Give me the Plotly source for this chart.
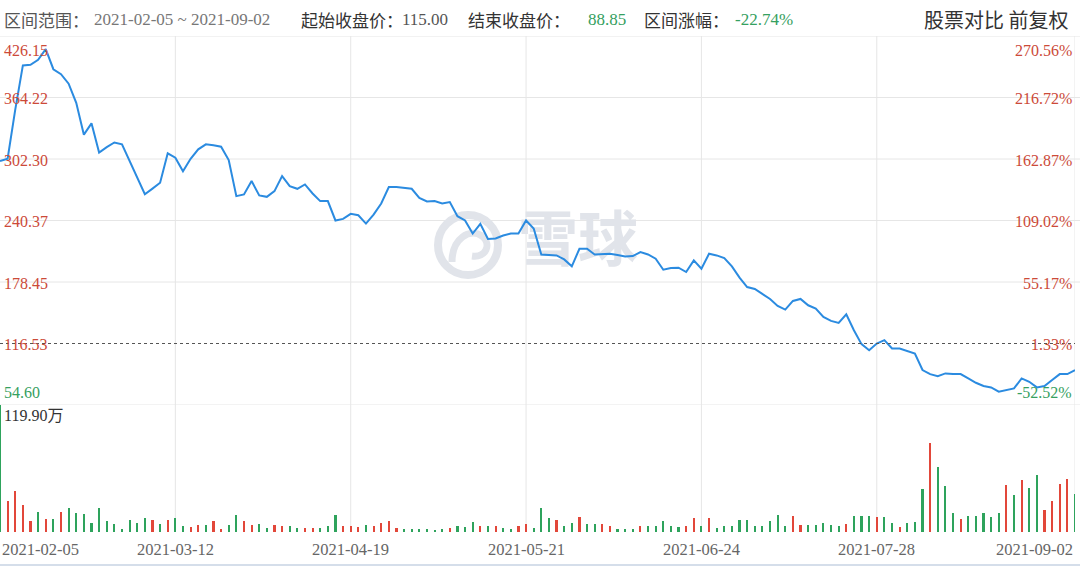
import plotly.graph_objects as go
import pandas as pd

# ---------------- data ----------------
hk_holidays = ["2021-02-12", "2021-02-15", "2021-04-02", "2021-04-05", "2021-04-06",
               "2021-05-19", "2021-06-14", "2021-07-01"]
dates = pd.bdate_range("2021-02-05", "2021-09-02", freq="C",
                       holidays=hk_holidays).strftime("%Y-%m-%d").tolist()

close = [
    300.2, 302.6, 352.0, 396.5, 397.2, 402.2, 413.0, 392.7, 387.7, 378.1,
    358.8, 326.8, 338.2, 308.8, 314.2, 318.9, 317.1, 300.5, 284.8, 266.8,
    272.5, 278.4, 308.0, 303.6, 290.0, 302.5, 312.0, 317.1, 316.1, 314.7,
    301.3, 264.9, 266.6, 280.1, 265.6, 264.2, 270.0, 285.1, 275.0, 272.3,
    276.7, 267.6, 259.9, 259.9, 240.4, 242.0, 247.1, 245.7, 237.3, 246.4,
    257.5, 274.0, 274.0, 273.3, 272.3, 263.2, 259.5, 259.9, 257.5, 258.9,
    244.7, 240.4, 227.2, 237.0, 221.8, 222.2, 225.2, 227.2, 227.2, 240.4,
    232.3, 206.2, 205.9, 205.2, 201.2, 194.2, 211.9, 211.9, 206.2, 206.9,
    206.9, 205.6, 204.2, 204.6, 208.6, 206.2, 201.9, 190.8, 192.5, 192.8,
    188.5, 200.2, 191.8, 206.9, 205.2, 202.5, 194.2, 182.8, 173.4, 171.4,
    166.1, 161.4, 154.4, 150.7, 159.4, 161.4, 155.0, 151.7, 143.3, 139.3,
    137.3, 146.0, 129.9, 115.9, 109.8, 116.5, 119.9, 111.5, 111.5, 109.2,
    106.5, 89.8, 85.7, 83.7, 86.4, 85.7, 85.7, 81.4, 77.0, 73.7,
    72.3, 68.0, 69.7, 71.3, 81.4, 78.0, 72.3, 73.7, 79.7, 85.7,
    85.7, 89.8,
]

volume_wan = [
    119.9, 29.3, 38.8, 25.9, 10.1, 18.6, 12.6, 12.3, 18.9, 22.7,
    17.7, 17.0, 8.5, 22.7, 10.1, 7.3, 3.2, 11.7, 8.5, 13.3,
    11.0, 7.6, 11.0, 13.3, 6.0, 4.7, 6.3, 6.6, 10.4, 3.2,
    6.6, 16.4, 10.4, 6.6, 7.3, 4.1, 6.3, 5.7, 5.4, 3.8,
    4.1, 3.8, 4.1, 6.0, 16.4, 5.4, 5.4, 4.7,
    6.9, 5.4, 8.5, 10.4, 4.1, 2.5, 2.8, 2.8, 2.8, 2.2,
    2.5, 3.8, 6.0, 4.4, 9.8, 6.0, 6.0, 5.4, 3.5, 2.8,
    5.4, 7.3, 4.1, 22.7, 13.3, 11.7, 5.4, 8.8, 14.5, 7.6,
    7.3, 7.3, 5.7, 3.2, 2.8, 2.8, 5.7, 5.7, 5.7, 10.1,
    5.4, 4.4, 5.7, 13.3, 5.7, 13.3, 4.1,
    5.4, 5.4, 11.7, 11.7, 5.4, 6.0, 10.1, 15.8, 6.0, 14.8,
    6.9, 6.9, 6.9, 8.5, 6.9, 5.4, 7.9, 14.8, 14.8, 15.5,
    14.2, 14.2, 8.5, 4.7, 8.5, 9.2, 41.0, 83.6, 60.9, 43.5,
    18.0, 12.6, 14.8, 15.5, 18.0, 14.2, 18.0, 44.8, 35.3, 48.9,
    42.0, 54.0, 21.1, 29.3, 45.1, 49.9, 36.3,
]

# r = up (red), g = down (green)
vol_dir = list(
    "grrrrgrgr" + "ggggggggggg" + "rgrgg" + "rrg" + "rrgg" + "rrgg" + "rrgg" + "rrggg" + "rrr"
    + "grrrr" + "gggggg" + "r" + "ggg" + "r" + "g" + "r" + "gg" + "rr" + "ggg" + "r" + "gg"
    + "r" + "gg" + "rr" + "ggg" + "r" + "ggggg" + "rr" + "g" + "r" + "g"
    + "ggggggggg" + "rr" + "ggggg" + "r" + "ggg" + "r" + "gg" + "r" + "ggg" + "r" + "ggg"
    + "r" + "ggggg" + "r" + "g" + "r" + "gg" + "rrrr" + "g"
)

price_ticks = [426.15, 364.22, 302.30, 240.37, 178.45, 116.53, 54.60]
price_labels = ["426.15", "364.22", "302.30", "240.37", "178.45", "116.53", "54.60"]
pct_labels = ["270.56%", "216.72%", "162.87%", "109.02%", "55.17%", "1.33%", "-52.52%"]
date_ticks = ["2021-02-05", "2021-03-12", "2021-04-19", "2021-05-21",
              "2021-06-24", "2021-07-28", "2021-09-02"]
vol_max = 119.90
vol_max_label = "119.90万"
start_price = "115.00"
end_price = "88.85"
range_change = "-22.74%"
period = "2021-02-05 ~ 2021-09-02"

n = len(dates)
assert n == len(close) == len(volume_wan) == len(vol_dir) == 142
x = list(range(n))

# ---------------- style ----------------
W, H = 1080, 567
ML, MR, MT, MB = 0, 5, 36, 35
PW = W - ML - MR
PH = H - MT - MB
VOL_FRAC = (532 - 405) / PH

RED = "#e2473a"
GREEN = "#2ea35c"
LBL_RED = "#cc4a38"
LBL_GREEN = "#35a060"
GRID = "#e6e6e6"
WM = "#e1e4ea"
NUMFONT = "Liberation Serif, Noto Sans CJK SC, serif"
CJKFONT = "Noto Sans CJK SC, sans-serif"


def px_x(p):
    return (p - ML) / PW


def px_y(p):
    return (H - MB - p) / PH


fig = go.Figure()

# watermark text (drawn first so the line sits on top)
fig.add_trace(go.Scatter(
    x=[px_x(578) * (n - 1)], y=[426.15 - (246 - 36) * (426.15 - 54.60) / 369],
    mode="text", text=["雪球"],
    textfont=dict(size=60, color=WM, family=CJKFONT, weight="bold"),
    hoverinfo="skip", showlegend=False, yaxis="y",
))

fig.add_trace(go.Scatter(
    x=x, y=close, mode="lines",
    line=dict(color="#2b8be0", width=2),
    hoverinfo="skip", showlegend=False, yaxis="y",
))

fig.add_trace(go.Bar(
    x=x, y=volume_wan,
    marker=dict(color=[RED if d == "r" else GREEN for d in vol_dir], line=dict(width=0)),
    width=0.28, hoverinfo="skip", showlegend=False, yaxis="y2",
))

shapes = []
# horizontal grid lines
for p in price_ticks:
    if p == 116.53:
        shapes.append(dict(type="line", xref="paper", yref="y", x0=0, x1=1, y0=p, y1=p,
                           line=dict(color="#555555", width=1, dash="3px,3px"), layer="above"))
    else:
        shapes.append(dict(type="line", xref="paper", yref="y", x0=0, x1=1.005, y0=p, y1=p,
                           line=dict(color=GRID, width=1), layer="below"))
# vertical grid lines
for d in date_ticks[1:-1]:
    i = dates.index(d)
    shapes.append(dict(type="line", xref="x", yref="paper", x0=i, x1=i, y0=0, y1=1,
                       line=dict(color=GRID, width=1), layer="below"))
# right border
shapes.append(dict(type="line", xref="x", yref="paper", x0=n - 1, x1=n - 1, y0=0, y1=1,
                   line=dict(color=GRID, width=1), layer="below"))
# bottom page border
shapes.append(dict(type="line", xref="paper", yref="paper", x0=0, x1=1.005,
                   y0=px_y(565), y1=px_y(565), line=dict(color="#d5deea", width=2), layer="below"))
# watermark logo ring
cx, cy, r = 468, 245, 30
shapes.append(dict(type="circle", xref="paper", yref="paper",
                   x0=px_x(cx - r), x1=px_x(cx + r), y0=px_y(cy + r), y1=px_y(cy - r),
                   line=dict(color=WM, width=8), layer="below"))
pts = [(452, 262), (452, 238), (470, 228), (482, 236), (492, 244), (486, 258), (472, 256)]
pp = [(px_x(a), px_y(b)) for a, b in pts]
path = "M {0},{1} C {2},{3} {4},{5} {6},{7} C {8},{9} {10},{11} {12},{13}".format(
    *[v for q in pp for v in q])
shapes.append(dict(type="path", xref="paper", yref="paper", path=path,
                   line=dict(color=WM, width=7), layer="below"))

ann = []
last = len(price_ticks) - 1
for k, (p, lab, pct) in enumerate(zip(price_ticks, price_labels, pct_labels)):
    col = LBL_GREEN if k == last else LBL_RED
    if k == 0:
        ya, ys = "top", -4
    elif k == last:
        ya, ys = "bottom", 2
    else:
        ya, ys = "middle", -1
    ann.append(dict(xref="paper", yref="y", x=px_x(2), y=p, text=lab, showarrow=False,
                    xanchor="left", yanchor=ya, yshift=ys,
                    font=dict(family=NUMFONT, size=16, color=col)))
    ann.append(dict(xref="paper", yref="y", x=px_x(1074), y=p, text=pct, showarrow=False,
                    xanchor="right", yanchor=ya, yshift=ys,
                    font=dict(family=NUMFONT, size=16, color=col)))

ann.append(dict(xref="paper", yref="paper", x=px_x(2), y=VOL_FRAC, text=vol_max_label,
                showarrow=False, xanchor="left", yanchor="top",
                font=dict(family=NUMFONT, size=16, color="#333333")))

for k, d in enumerate(date_ticks):
    i = dates.index(d)
    xa = "left" if k == 0 else ("right" if k == len(date_ticks) - 1 else "center")
    ann.append(dict(xref="x", yref="paper", x=i, y=px_y(549), text=d, showarrow=False,
                    xanchor=xa, yanchor="middle",
                    font=dict(family=NUMFONT, size=16.5, color="#666666")))

hy = px_y(19)
header = [
    (2, "区间范围：", "#555555", CJKFONT),
    (92, period, "#777777", NUMFONT),
    (299, "起始收盘价：", "#333333", CJKFONT),
    (400, start_price, "#555555", NUMFONT),
    (466, "结束收盘价：", "#333333", CJKFONT),
    (586, end_price, LBL_GREEN, NUMFONT),
    (642, "区间涨幅：", "#333333", CJKFONT),
    (733, range_change, LBL_GREEN, NUMFONT),
]
for px, t, c, f in header:
    ann.append(dict(xref="paper", yref="paper", x=px_x(px), y=hy, text=t, showarrow=False,
                    xanchor="left", yanchor="middle", font=dict(family=f, size=17, color=c)))
ann.append(dict(xref="paper", yref="paper", x=px_x(1070), y=hy, text="股票对比 前复权",
                showarrow=False, xanchor="right", yanchor="middle",
                font=dict(family=CJKFONT, size=20, color="#333333")))

fig.update_layout(
    width=W, height=H,
    margin=dict(l=ML, r=MR, t=MT, b=MB, pad=0),
    paper_bgcolor="white", plot_bgcolor="white",
    showlegend=False,
    bargap=0,
    xaxis=dict(range=[0, n - 1], showgrid=False, zeroline=False, showticklabels=False,
               showline=False, ticks="", anchor="y2", fixedrange=True),
    yaxis=dict(domain=[VOL_FRAC, 1], range=[54.60, 426.15], showgrid=False, zeroline=False,
               showticklabels=False, showline=False, ticks="", fixedrange=True),
    yaxis2=dict(domain=[0, VOL_FRAC], range=[0, vol_max], showgrid=False, zeroline=False,
                showticklabels=False, showline=False, ticks="", fixedrange=True),
    shapes=shapes,
    annotations=ann,
)

fig.write_html("out.html", config={"displayModeBar": False},
               post_script="document.body.style.margin='0px';document.body.style.overflow='hidden';")
